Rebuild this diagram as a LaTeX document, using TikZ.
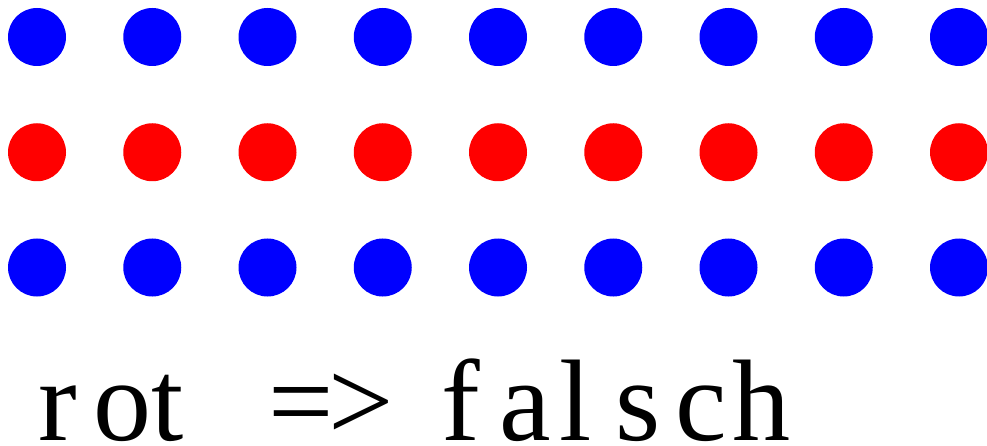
\documentclass[tikz,border=0pt]{standalone}
\usepackage{fontspec}
\setmainfont{Liberation Serif}
\usetikzlibrary{positioning}

\begin{document}
\begin{tikzpicture}[
  x=1pt, y=-1pt,
  dot/.style  = {circle, inner sep=0pt, minimum size=58pt, fill=#1},
  word/.style = {anchor=base west, inner sep=0pt, font=\fontsize{116}{116}\selectfont},
]
\useasboundingbox (0,0) rectangle (987,446);

% ── Rows of dots ─────────────────────────────────────────────────────────────
\foreach \i in {1,...,9} {
  \node[dot=blue] (top\i) at ({37+115.25*(\i-1)}, 37)     {};
  \node[dot=red]  (mid\i) at ({37+115.25*(\i-1)}, 152.25) {};
  \node[dot=blue] (bot\i) at ({37+115.25*(\i-1)}, 267.5)  {};
}

% ── Caption ──────────────────────────────────────────────────────────────────
\node[word] (rot)    at (38, 440)  {r\kern17pt ot};
\node[word] (impl)   at (268, 440) {=\kern-5pt>};
\node[word] (falsch) at (441, 440) {f\kern20pt a\kern8pt l\kern24pt s\kern15pt c\kern5pt h};

\end{tikzpicture}
\end{document}
